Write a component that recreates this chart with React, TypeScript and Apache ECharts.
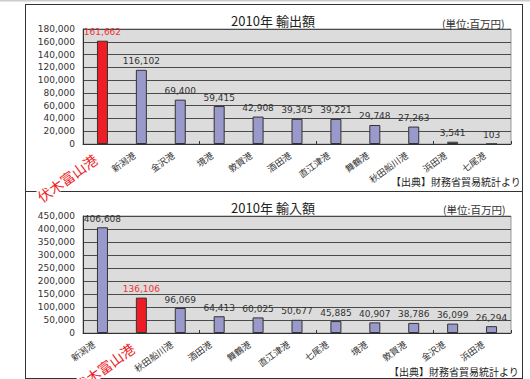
import React, { useEffect, useRef } from "react";
import * as echarts from "echarts";

const exportPorts = ["伏木富山港", "新潟港", "金沢港", "境港", "敦賀港", "酒田港", "直江津港", "舞鶴港", "秋田船川港", "浜田港", "七尾港"];
const exportValues = [161662, 116102, 69400, 59415, 42908, 39345, 39221, 29748, 27263, 3541, 103];
const importPorts = ["新潟港", "伏木富山港", "秋田船川港", "酒田港", "舞鶴港", "直江津港", "七尾港", "境港", "敦賀港", "金沢港", "浜田港"];
const importValues = [406608, 136106, 96069, 64413, 60025, 50677, 45885, 40907, 38786, 36099, 26294];
const highlightPort = "伏木富山港";
const exportTitle = "2010年 輸出額";
const importTitle = "2010年 輸入額";
const unitText = "(単位:百万円)";
const sourceText = "【出典】財務省貿易統計より";

const BLUE = "#9999cc";
const RED = "#ee1c24";
const JP = "'Noto Sans CJK JP', sans-serif";
const NUM = "'DejaVu Sans', sans-serif";
const LABEL_ANGLE = (36 * Math.PI) / 180;

function makeData(ports: string[], values: number[]) {
  return values.map((v, i) => {
    const hi = ports[i] === highlightPort;
    return {
      value: v,
      itemStyle: { color: hi ? RED : BLUE },
      label: { color: hi ? "#ee3333" : "#333" },
    };
  });
}

function catAxis(ports: string[], gridIndex: number) {
  return {
    type: "category",
    gridIndex,
    data: ports,
    axisLine: { show: true, lineStyle: { color: "#333", width: 1 } },
    axisTick: { show: true, inside: true, length: 3, lineStyle: { color: "#333" } },
    axisLabel: { show: false },
  };
}

function valAxis(gridIndex: number, max: number, interval: number) {
  return {
    type: "value",
    gridIndex,
    min: 0,
    max,
    interval,
    axisLine: { show: true, lineStyle: { color: "#333" } },
    axisTick: { show: false },
    splitLine: { show: true, lineStyle: { color: "#4a4a4a", width: 1 } },
    axisLabel: {
      fontSize: 9,
      fontFamily: NUM,
      color: "#333",
      margin: 8,
      formatter: (v: number) => v.toLocaleString("en-US"),
    },
  };
}

function barSeries(ports: string[], values: number[], idx: number) {
  return {
    type: "bar",
    xAxisIndex: idx,
    yAxisIndex: idx,
    barWidth: 11,
    data: makeData(ports, values),
    itemStyle: { borderColor: "#333", borderWidth: 1 },
    label: {
      show: true,
      position: "top",
      distance: 4,
      fontSize: 9,
      fontFamily: NUM,
      formatter: (p: any) => Number(p.value).toLocaleString("en-US"),
    },
  };
}

function labelSeries(ports: string[], idx: number, dx: number, dy: number) {
  return {
    type: "custom",
    xAxisIndex: idx,
    yAxisIndex: idx,
    silent: true,
    clip: false,
    z: 5,
    data: ports.map((_, i) => [i, 0]),
    renderItem: (params: any, api: any) => {
      const pt = api.coord([api.value(0), 0]);
      const name = ports[params.dataIndex];
      const hi = name === highlightPort;
      return {
        type: "text",
        x: pt[0] + dx,
        y: pt[1] + dy,
        rotation: LABEL_ANGLE,
        style: {
          text: name,
          align: "right",
          verticalAlign: "top",
          fontSize: hi ? 14 : 9,
          fontFamily: JP,
          fill: hi ? RED : "#333",
          backgroundColor: hi ? "#fff" : undefined,
          padding: hi ? [0, 2, 0, 2] : 0,
        },
      };
    },
  };
}

export default function App() {
  const ref = useRef<HTMLDivElement>(null);
  useEffect(() => {
    if (!ref.current) return;
    const chart = echarts.init(ref.current, undefined, { renderer: "svg" });
    const lineStyle = { stroke: "#333", lineWidth: 1 };
    chart.setOption({
      animation: false,
      backgroundColor: "#fff",
      title: [
        { text: exportTitle, left: 268, top: 9, textAlign: "center", textStyle: { fontSize: 13, fontWeight: "normal", fontFamily: JP, color: "#222" } },
        { text: importTitle, left: 268, top: 196, textAlign: "center", textStyle: { fontSize: 13, fontWeight: "normal", fontFamily: JP, color: "#222" } },
      ],
      graphic: [
        { type: "line", z: 0, shape: { x1: 0, y1: 0.5, x2: 530, y2: 0.5 }, style: { stroke: "#ccc", lineWidth: 2 } },
        { type: "line", z: 0, shape: { x1: 25.5, y1: 4, x2: 25.5, y2: 379 }, style: lineStyle },
        { type: "line", z: 0, shape: { x1: 522.5, y1: 4, x2: 522.5, y2: 379 }, style: lineStyle },
        { type: "line", z: 0, shape: { x1: 25, y1: 4.5, x2: 523, y2: 4.5 }, style: lineStyle },
        { type: "line", z: 0, shape: { x1: 25, y1: 191.5, x2: 523, y2: 191.5 }, style: lineStyle },
        { type: "line", z: 0, shape: { x1: 25, y1: 378.5, x2: 523, y2: 378.5 }, style: lineStyle },
        { type: "text", left: 442, top: 18, style: { text: unitText, fontSize: 10.5, fontFamily: JP, fill: "#333" } },
        { type: "text", left: 443, top: 204, style: { text: unitText, fontSize: 10.5, fontFamily: JP, fill: "#333" } },
        { type: "text", left: 391, top: 176, style: { text: sourceText, fontSize: 10, fontFamily: JP, fill: "#222" } },
        { type: "text", left: 389, top: 366, style: { text: sourceText, fontSize: 10, fontFamily: JP, fill: "#222" } },
      ],
      grid: [
        { left: 83, top: 29, width: 428, height: 115, show: true, backgroundColor: "#dcdcdc", borderColor: "#999", borderWidth: 1 },
        { left: 83, top: 216, width: 428, height: 117, show: true, backgroundColor: "#dcdcdc", borderColor: "#999", borderWidth: 1 },
      ],
      xAxis: [catAxis(exportPorts, 0), catAxis(importPorts, 1)],
      yAxis: [valAxis(0, 180000, 20000), valAxis(1, 450000, 50000)],
      series: [
        barSeries(exportPorts, exportValues, 0),
        barSeries(importPorts, importValues, 1),
        labelSeries(exportPorts, 0, -9.5, 6.5),
        labelSeries(importPorts, 1, -11, 6.5),
      ],
    });
    return () => chart.dispose();
  }, []);
  return <div ref={ref} style={{ position: "absolute", left: 0, top: 0, width: 530, height: 379 }} />;
}
